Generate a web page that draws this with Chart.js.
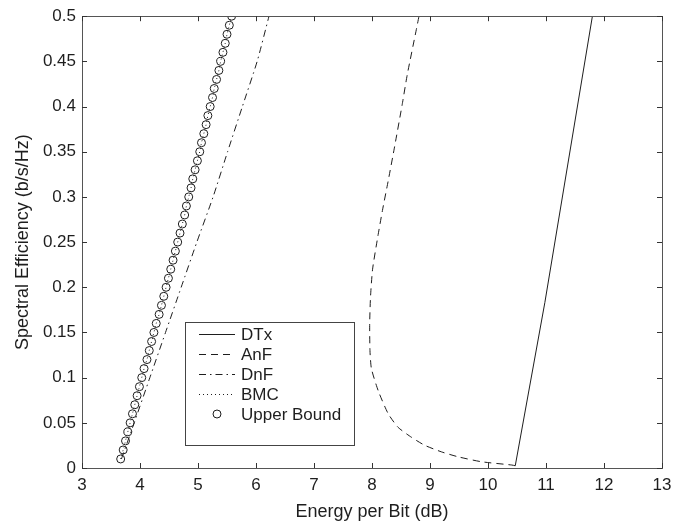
<!DOCTYPE html>
<html>
<head>
<meta charset="utf-8">
<script src="https://cdn.jsdelivr.net/npm/chart.js@4/dist/chart.umd.min.js"></script>
<style>
  html, body { margin: 0; padding: 0; background: #fff; }
  #wrap { width: 692px; height: 527px; position: relative; }
</style>
</head>
<body>
<div id="wrap"><canvas id="c" width="692" height="527"></canvas></div>
<script>
// ---- data ----
const xTicks = [3, 4, 5, 6, 7, 8, 9, 10, 11, 12, 13];
const yTicks = [0, 0.05, 0.1, 0.15, 0.2, 0.25, 0.3, 0.35, 0.4, 0.45, 0.5];
const yTickLabels = ['0', '0.05', '0.1', '0.15', '0.2', '0.25', '0.3', '0.35', '0.4', '0.45', '0.5'];

const seriesLabels = ['DTx', 'AnF', 'DnF', 'BMC', 'Upper Bound'];

const dtxX = [10.47, 10.98, 11.80];
const dtxY = [0.0025, 0.183, 0.5];

const anfX = [10.47, 10.41, 9.89, 9.49, 9.20, 8.91, 8.68, 8.45, 8.28, 8.11, 7.99, 7.965, 7.96, 7.975, 8.01, 8.10, 8.18, 8.28, 8.385, 8.52, 8.61, 8.77, 8.81];
const anfY = [0.0025, 0.0033, 0.0069, 0.0123, 0.0178, 0.0251, 0.034, 0.045, 0.06, 0.085, 0.11, 0.13, 0.16, 0.19, 0.22, 0.256, 0.285, 0.318, 0.354, 0.402, 0.436, 0.487, 0.5];

const dnfX = [3.68, 3.90, 4.17, 4.44, 4.71, 4.98, 5.26, 5.51, 5.765, 6.02, 6.224];
const dnfY = [0.01, 0.05, 0.1, 0.15, 0.2, 0.25, 0.3, 0.35, 0.4, 0.45, 0.5];

const ubY = [0.01, 0.02, 0.03, 0.04, 0.05, 0.06, 0.07, 0.08, 0.09, 0.10,
             0.11, 0.12, 0.13, 0.14, 0.15, 0.16, 0.17, 0.18, 0.19, 0.20,
             0.21, 0.22, 0.23, 0.24, 0.25, 0.26, 0.27, 0.28, 0.29, 0.30,
             0.31, 0.32, 0.33, 0.34, 0.35, 0.36, 0.37, 0.38, 0.39, 0.40,
             0.41, 0.42, 0.43, 0.44, 0.45, 0.46, 0.47, 0.48, 0.49, 0.50];
const ubX = [3.667, 3.71, 3.75, 3.79, 3.83, 3.87, 3.91, 3.95, 3.99, 4.03,
             4.07, 4.12, 4.16, 4.20, 4.24, 4.28, 4.33, 4.37, 4.41, 4.45,
             4.49, 4.53, 4.57, 4.61, 4.65, 4.69, 4.73, 4.77, 4.80, 4.84,
             4.88, 4.91, 4.95, 4.99, 5.03, 5.06, 5.10, 5.14, 5.17, 5.21,
             5.25, 5.28, 5.32, 5.36, 5.39, 5.43, 5.47, 5.50, 5.54, 5.58];
// BMC coincides with the upper bound in the picture
const bmcX = ubX;
const bmcY = ubY;

const pts = (xs, ys) => xs.map((x, i) => ({ x: x, y: ys[i] }));

const INK = '#1e1e1e';
const FONT = "'Liberation Sans', Arial, Helvetica, sans-serif";

const frameAndLegend = {
  id: 'frameAndLegend',
  afterDraw(chart) {
    const ctx = chart.ctx;
    const a = chart.chartArea;
    const xs = chart.scales.x, ys = chart.scales.y;
    ctx.save();
    ctx.strokeStyle = '#555';
    ctx.lineWidth = 1;
    ctx.setLineDash([]);
    ctx.strokeRect(Math.round(a.left) + 0.5, Math.round(a.top) + 0.5,
                   Math.round(a.right - a.left), Math.round(a.bottom - a.top));
    const tl = 5;
    ctx.strokeStyle = '#333';
    ctx.beginPath();
    xs.ticks.forEach(t => {
      const px = Math.round(xs.getPixelForValue(t.value)) + 0.5;
      ctx.moveTo(px, a.bottom); ctx.lineTo(px, a.bottom - tl);
      ctx.moveTo(px, a.top); ctx.lineTo(px, a.top + tl);
    });
    ys.ticks.forEach(t => {
      const py = Math.round(ys.getPixelForValue(t.value)) + 0.5;
      ctx.moveTo(a.left, py); ctx.lineTo(a.left + tl, py);
      ctx.moveTo(a.right, py); ctx.lineTo(a.right - tl, py);
    });
    ctx.stroke();

    // legend box
    const bx = 185.5, by = 322.5, bw = 169, bh = 123;
    ctx.fillStyle = '#fff';
    ctx.fillRect(bx, by, bw, bh);
    ctx.strokeStyle = '#444';
    ctx.strokeRect(bx, by, bw, bh);
    ctx.font = '17px ' + FONT;
    ctx.textBaseline = 'middle';
    ctx.textAlign = 'left';
    chart.data.datasets.forEach((ds, i) => {
      const ry = 334 + i * 20;
      if (ds.showLine) {
        ctx.strokeStyle = ds.borderColor;
        ctx.lineWidth = ds.borderWidth;
        ctx.setLineDash(ds.borderDash || []);
        ctx.beginPath();
        ctx.moveTo(199, ry + 0.5);
        ctx.lineTo(235, ry + 0.5);
        ctx.stroke();
      } else {
        ctx.setLineDash([]);
        ctx.strokeStyle = ds.pointBorderColor;
        ctx.lineWidth = 1;
        ctx.beginPath();
        ctx.arc(217, ry, ds.pointRadius, 0, Math.PI * 2);
        ctx.stroke();
      }
      ctx.fillStyle = INK;
      ctx.fillText(ds.label, 241, ry + 1);
    });
    ctx.restore();
  }
};

new Chart(document.getElementById('c'), {
  type: 'scatter',
  data: {
    datasets: [
      { label: seriesLabels[0], data: pts(dtxX, dtxY), showLine: true, borderColor: INK, borderWidth: 1, pointRadius: 0, tension: 0 },
      { label: seriesLabels[1], data: pts(anfX, anfY), showLine: true, borderColor: INK, borderWidth: 1, borderDash: [7, 5], pointRadius: 0, tension: 0.2 },
      { label: seriesLabels[2], data: pts(dnfX, dnfY), showLine: true, borderColor: INK, borderWidth: 1, borderDash: [7, 4, 1.5, 4], pointRadius: 0, tension: 0.2 },
      { label: seriesLabels[3], data: pts(bmcX, bmcY), showLine: true, borderColor: INK, borderWidth: 1, borderDash: [1, 3], pointRadius: 0, tension: 0 },
      { label: seriesLabels[4], data: pts(ubX, ubY), showLine: false, pointStyle: 'circle', pointRadius: 4, pointBorderWidth: 1, pointBorderColor: INK, pointBackgroundColor: 'rgba(0,0,0,0)' }
    ]
  },
  options: {
    responsive: false,
    animation: false,
    devicePixelRatio: 1,
    layout: { padding: { left: 0, right: 30, top: 10, bottom: 0 } },
    plugins: { legend: { display: false }, tooltip: { enabled: false } },
    scales: {
      x: {
        type: 'linear',
        min: xTicks[0], max: xTicks[xTicks.length - 1],
        afterBuildTicks: s => { s.ticks = xTicks.map(v => ({ value: v })); },
        afterFit: s => { s.height = 59; },
        grid: { display: false, drawTicks: false },
        border: { display: false },
        ticks: { font: { family: FONT, size: 17 }, color: INK, padding: 7, maxRotation: 0, autoSkip: false,
                 callback: v => String(v) },
        title: { display: true, text: 'Energy per Bit (dB)', font: { family: FONT, size: 18 }, color: INK, padding: { top: 0, bottom: 4 } }
      },
      y: {
        type: 'linear',
        min: yTicks[0], max: yTicks[yTicks.length - 1],
        afterBuildTicks: s => { s.ticks = yTicks.map(v => ({ value: v })); },
        afterFit: s => { s.width = 82; },
        grid: { display: false, drawTicks: false },
        border: { display: false },
        ticks: { font: { family: FONT, size: 17 }, color: INK, padding: 6, autoSkip: false,
                 callback: v => yTickLabels[yTicks.findIndex(t => Math.abs(t - v) < 1e-9)] },
        title: { display: true, text: 'Spectral Efficiency (b/s/Hz)', font: { family: FONT, size: 18 }, color: INK, padding: { top: 12, bottom: 0 } }
      }
    }
  },
  plugins: [frameAndLegend]
});
</script>
</body>
</html>
